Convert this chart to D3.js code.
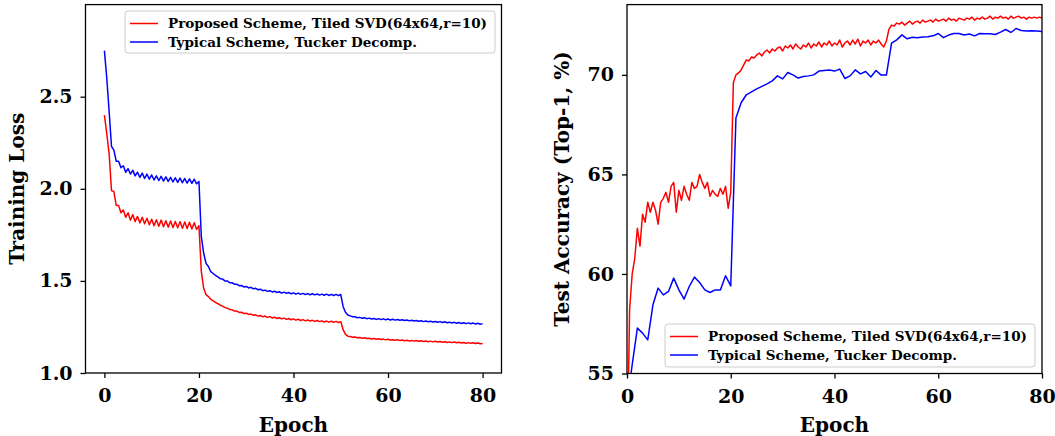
<!DOCTYPE html>
<html>
<head>
<meta charset="utf-8">
<script src="https://cdn.jsdelivr.net/npm/d3@7"></script>
<style>
  body { margin: 0; background: #fff; }
  svg { display: block; font-family: "DejaVu Serif", serif; font-weight: bold; }
</style>
</head>
<body>
<div id="chart"></div>
<script>
// Series names
const seriesNames = ['Proposed Scheme, Tiled SVD(64x64,r=10)', 'Typical Scheme, Tucker Decomp.']

// Training loss, sampled every half epoch (0, 0.5, ... 80)
const lossProposed = [
  2.40, 2.30, 2.19, 1.99, 1.985, 1.91, 1.91, 1.87, 1.885, 1.845, 1.87, 1.83, 1.86, 1.822, 1.85, 1.815, 1.845, 1.81, 1.84, 1.805,
  1.835, 1.80, 1.832, 1.797, 1.83, 1.794, 1.827, 1.792, 1.825, 1.79, 1.823, 1.788, 1.821, 1.786, 1.82, 1.784, 1.818, 1.782, 1.816, 1.78,
  1.80, 1.55, 1.46, 1.425, 1.415, 1.40, 1.392, 1.383, 1.377, 1.368, 1.363, 1.355, 1.352, 1.345, 1.343, 1.336, 1.336, 1.329, 1.33, 1.323,
  1.325, 1.318, 1.32, 1.313, 1.316, 1.309, 1.312, 1.305, 1.309, 1.302, 1.306, 1.299, 1.303, 1.296, 1.30, 1.294, 1.298, 1.291, 1.296, 1.289,
  1.294, 1.287, 1.292, 1.285, 1.29, 1.283, 1.288, 1.282, 1.286, 1.28, 1.285, 1.279, 1.283, 1.277, 1.282, 1.276, 1.281, 1.275, 1.28, 1.274,
  1.279, 1.235, 1.21, 1.20, 1.198, 1.194, 1.195, 1.191, 1.193, 1.189, 1.191, 1.187, 1.189, 1.185, 1.187, 1.183, 1.186, 1.182, 1.184, 1.18,
  1.183, 1.179, 1.181, 1.178, 1.18, 1.176, 1.179, 1.175, 1.178, 1.174, 1.177, 1.173, 1.176, 1.172, 1.175, 1.171, 1.174, 1.17, 1.173, 1.169,
  1.172, 1.168, 1.171, 1.167, 1.17, 1.166, 1.169, 1.165, 1.168, 1.164, 1.167, 1.163, 1.166, 1.162, 1.165, 1.161, 1.164, 1.16, 1.163, 1.159,
  1.16
]
const lossTypical = [
  2.75, 2.60, 2.42, 2.23, 2.21, 2.15, 2.15, 2.115, 2.125, 2.09, 2.11, 2.08, 2.10, 2.07, 2.09, 2.062, 2.085, 2.056, 2.08, 2.052,
  2.075, 2.048, 2.07, 2.045, 2.068, 2.042, 2.065, 2.04, 2.062, 2.037, 2.06, 2.035, 2.058, 2.033, 2.056, 2.031, 2.054, 2.03, 2.052, 2.027,
  2.04, 1.74, 1.65, 1.595, 1.578, 1.55, 1.54, 1.53, 1.522, 1.512, 1.51, 1.50, 1.50, 1.49, 1.49, 1.482, 1.482, 1.474, 1.475, 1.467,
  1.47, 1.462, 1.465, 1.457, 1.46, 1.452, 1.455, 1.447, 1.45, 1.443, 1.447, 1.44, 1.444, 1.437, 1.441, 1.434, 1.439, 1.432, 1.437, 1.43,
  1.435, 1.428, 1.434, 1.427, 1.432, 1.426, 1.431, 1.425, 1.43, 1.424, 1.429, 1.423, 1.428, 1.422, 1.428, 1.421, 1.427, 1.421, 1.427, 1.42,
  1.426, 1.36, 1.33, 1.315, 1.31, 1.305, 1.305, 1.30, 1.302, 1.297, 1.30, 1.295, 1.298, 1.293, 1.296, 1.291, 1.295, 1.29, 1.294, 1.289,
  1.293, 1.288, 1.292, 1.287, 1.29, 1.286, 1.289, 1.285, 1.288, 1.283, 1.286, 1.282, 1.285, 1.281, 1.284, 1.279, 1.282, 1.278, 1.281, 1.277,
  1.28, 1.276, 1.279, 1.274, 1.278, 1.273, 1.276, 1.272, 1.275, 1.27, 1.274, 1.269, 1.273, 1.268, 1.272, 1.267, 1.271, 1.266, 1.27, 1.265,
  1.268
]

// Test accuracy (%), proposed sampled every half epoch, typical every epoch
const accProposed = [
  50.0, 58.2, 60.0, 60.8, 62.3, 61.4, 63.0, 62.6, 63.6, 63.1, 63.6, 63.2, 62.5, 63.6, 63.8, 64.1, 63.6, 64.4, 64.6, 63.1,
  64.2, 63.7, 64.4, 64.0, 63.7, 64.6, 64.3, 64.4, 65.0, 64.6, 64.3, 64.6, 63.9, 64.2, 64.0, 63.9, 64.3, 64.0, 64.4, 63.3,
  64.1, 69.6, 70.0, 70.1, 70.25, 70.5, 70.75, 70.7, 70.9, 70.85, 71.0, 71.1, 70.95, 71.15, 71.25, 71.1, 71.3, 71.2, 71.35, 71.4,
  71.2, 71.45, 71.35, 71.5, 71.3, 71.55, 71.4, 71.3, 71.5, 71.4, 71.6, 71.35, 71.55, 71.45, 71.65, 71.4, 71.6, 71.5, 71.7, 71.45,
  71.6, 71.5, 71.75, 71.4, 71.6, 71.7, 71.5, 71.75, 71.55, 71.8, 71.45, 71.7, 71.6, 71.75, 71.5, 71.7, 71.6, 71.75, 71.55, 71.4,
  71.7, 72.3, 72.5, 72.45, 72.6, 72.55, 72.65, 72.5, 72.6, 72.7, 72.55, 72.65, 72.7, 72.6, 72.75, 72.65, 72.7, 72.75, 72.65, 72.8,
  72.7, 72.75, 72.8, 72.7, 72.85, 72.75, 72.8, 72.7, 72.85, 72.8, 72.75, 72.85, 72.8, 72.9, 72.75, 72.85, 72.8, 72.9, 72.8, 72.85,
  72.95, 72.8, 72.9, 72.85, 72.95, 72.85, 72.9, 72.8, 72.95, 72.85, 72.9, 72.95, 72.85, 72.9, 72.8, 72.9, 72.85, 72.9, 72.85, 72.9,
  72.85
]
const accTypical = [
  53.5, 55.44, 57.28, 57.03, 56.69, 58.45, 59.29, 58.95, 59.12, 59.79,
  59.2, 58.74, 59.37, 59.84, 59.57, 59.2, 59.07, 59.2, 59.2, 59.91,
  59.4, 67.83, 68.6, 69.0, 69.15, 69.3, 69.42, 69.55, 69.7, 69.95,
  69.8, 70.12, 70.0, 69.84, 69.92, 69.95, 70.0, 70.19, 70.22, 70.25,
  70.19, 70.29, 69.82, 69.95, 70.25, 70.05, 70.17, 69.89, 70.22, 69.99,
  69.99, 71.59, 71.76, 72.01, 71.81, 71.89, 71.87, 71.9, 71.92, 71.96,
  72.08, 71.87, 72.0, 72.08, 72.08, 72.0, 72.05, 71.96, 72.08, 72.07,
  72.06, 72.03, 72.15, 72.28, 72.13, 72.33, 72.23, 72.2, 72.22, 72.2,
  72.18
]

const xTicks = [0, 20, 40, 60, 80]
const lossTicks = [1.0, 1.5, 2.0, 2.5]
const accTicks = [55, 60, 65, 70]

function draw() {
  let dimensions = { width: 1055, height: 436 }

  const svg = d3.select('#chart')
    .append('svg')
    .attr('width', dimensions.width)
    .attr('height', dimensions.height)

  const halfEpochs = d3.range(lossProposed.length).map(i => i / 2)
  const epochs = d3.range(accTypical.length)

  drawPanel(svg, {
    id: 'loss',
    left: 85.5, right: 501.5, top: 4.6, bottom: 373,
    xDomain: [-4, 84], yDomain: [1.0, 3.0],
    yTicks: lossTicks, yFormat: d3.format('.1f'),
    yLabel: 'Training Loss', yLabelX: 24,
    series: [
      { x: halfEpochs, y: lossProposed, color: '#ff0000' },
      { x: halfEpochs, y: lossTypical, color: '#0000ff' },
    ],
    legend: { x: 125, y: 11, w: 370, h: 42 },
  })

  drawPanel(svg, {
    id: 'acc',
    left: 627, right: 1042, top: 4.6, bottom: 373.5,
    xDomain: [0, 80], yDomain: [55, 73.53],
    yTicks: accTicks, yFormat: d3.format('d'),
    yLabel: 'Test Accuracy (Top-1, %)', yLabelX: 569,
    series: [
      { x: halfEpochs, y: accProposed, color: '#ff0000' },
      { x: epochs, y: accTypical, color: '#0000ff' },
    ],
    legend: { x: 665, y: 324, w: 370, h: 43 },
  })
}

function drawPanel(svg, p) {
  const xScale = d3.scaleLinear().domain(p.xDomain).range([p.left, p.right])
  const yScale = d3.scaleLinear().domain(p.yDomain).range([p.bottom, p.top])

  svg.append('clipPath')
    .attr('id', `clip-${p.id}`)
    .append('rect')
    .attr('x', p.left).attr('y', p.top)
    .attr('width', p.right - p.left).attr('height', p.bottom - p.top)

  // Lines
  const line = d3.line()
    .x(d => xScale(d[0]))
    .y(d => yScale(d[1]))

  svg.append('g')
    .attr('clip-path', `url(#clip-${p.id})`)
    .selectAll('path')
    .data(p.series)
    .join('path')
    .attr('d', s => line(s.y.map((v, i) => [s.x[i], v])))
    .attr('fill', 'none')
    .attr('stroke', s => s.color)
    .attr('stroke-width', 1.5)
    .attr('stroke-linejoin', 'round')

  // Axes
  const xAxis = d3.axisBottom(xScale)
    .tickValues(xTicks)
    .tickSize(5)
    .tickPadding(11)
  const xAxisGroup = svg.append('g')
    .attr('transform', `translate(0, ${p.bottom})`)
    .call(xAxis)

  const yAxis = d3.axisLeft(yScale)
    .tickValues(p.yTicks)
    .tickFormat(p.yFormat)
    .tickSize(5)
    .tickPadding(8)
  const yAxisGroup = svg.append('g')
    .attr('transform', `translate(${p.left}, 0)`)
    .call(yAxis)

  ;[xAxisGroup, yAxisGroup].forEach(g => {
    g.select('.domain').remove()
    g.selectAll('line').attr('stroke', '#000').attr('stroke-width', 1.3)
    g.selectAll('text')
      .attr('fill', '#000')
      .style('font-family', '"DejaVu Serif", serif')
      .style('font-weight', 'bold')
      .style('font-size', '19px')
  })

  // Frame
  svg.append('rect')
    .attr('x', p.left).attr('y', p.top)
    .attr('width', p.right - p.left).attr('height', p.bottom - p.top)
    .attr('fill', 'none')
    .attr('stroke', '#000')
    .attr('stroke-width', 1.3)

  // Axis labels
  svg.append('text')
    .attr('x', (p.left + p.right) / 2)
    .attr('y', 432)
    .attr('text-anchor', 'middle')
    .style('font-size', '20px')
    .text('Epoch')

  svg.append('text')
    .attr('transform', `translate(${p.yLabelX}, ${(p.top + p.bottom) / 2}) rotate(-90)`)
    .attr('text-anchor', 'middle')
    .style('font-size', '20px')
    .text(p.yLabel)

  // Legend
  const lg = svg.append('g')
  lg.append('rect')
    .attr('x', p.legend.x).attr('y', p.legend.y)
    .attr('width', p.legend.w).attr('height', p.legend.h)
    .attr('rx', 3)
    .attr('fill', '#fff')
    .attr('fill-opacity', 0.8)
    .attr('stroke', '#cccccc')
    .attr('stroke-width', 1)

  const rows = lg.selectAll('g.row')
    .data(p.series)
    .join('g')
    .attr('class', 'row')
    .attr('transform', (s, i) => `translate(${p.legend.x}, ${p.legend.y + 12.5 + i * 18.5})`)

  rows.append('line')
    .attr('x1', 5).attr('x2', 33)
    .attr('stroke', s => s.color)
    .attr('stroke-width', 1.5)

  rows.append('text')
    .attr('x', 43)
    .attr('y', 4.5)
    .style('font-size', '13.5px')
    .text((s, i) => seriesNames[i])
}

draw()
</script>
</body>
</html>
